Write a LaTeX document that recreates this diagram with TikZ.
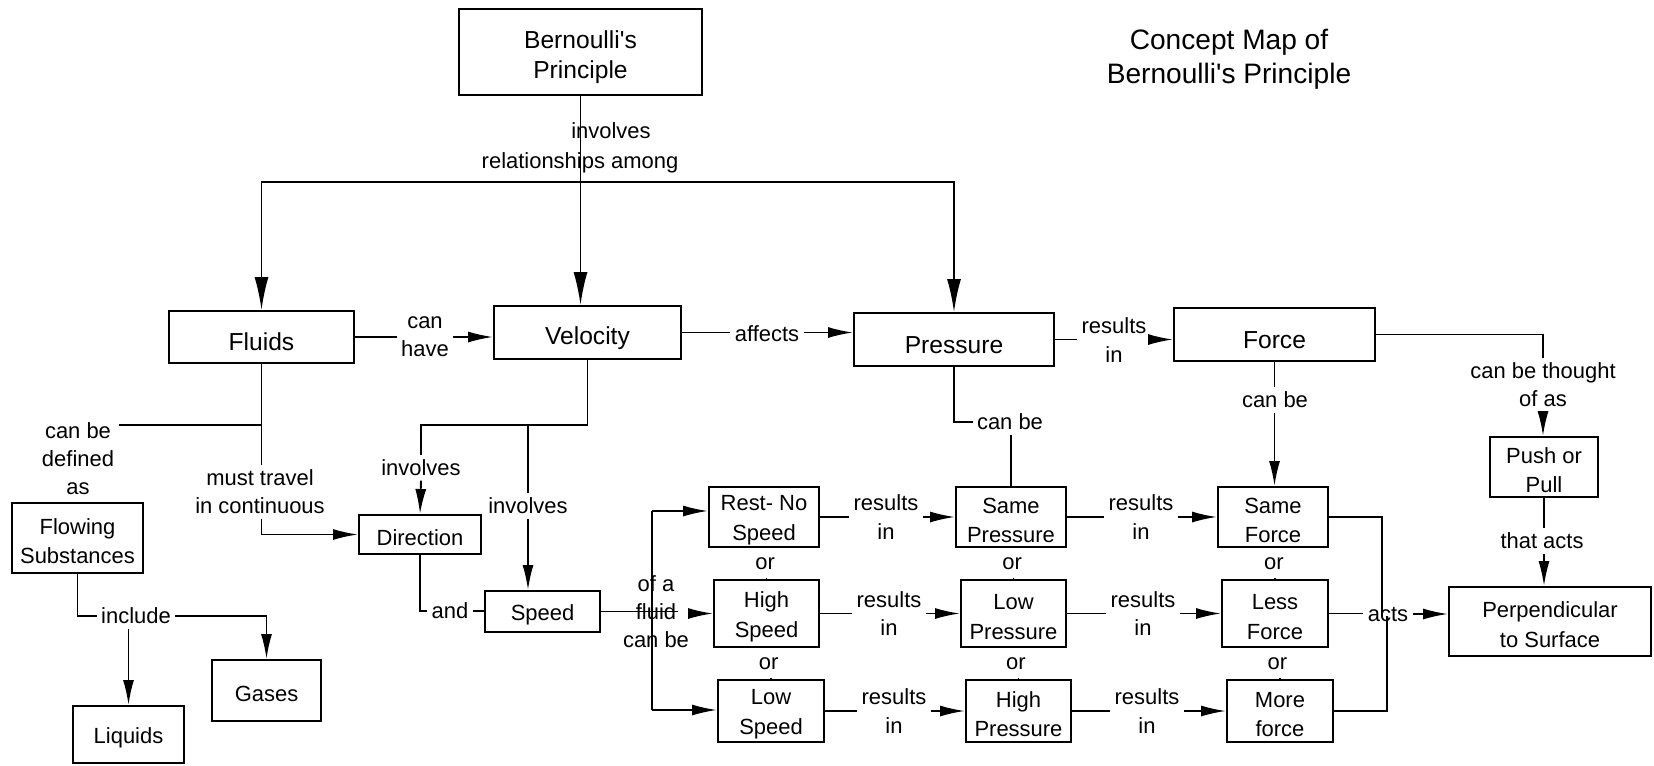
\documentclass[tikz,border=0pt]{standalone}
\usepackage{fontspec}
\setmainfont{Liberation Sans}
\usetikzlibrary{arrows.meta,calc}
\newcommand{\lift}[1]{\rule{0pt}{#1}}
\begin{document}
\begin{tikzpicture}[x=0.02cm,y=-0.02cm,line width=1.1pt,
    box/.style={draw,inner sep=0pt,align=center,font=\fontsize{12.5}{17}\selectfont},
    bigbox/.style={box,font=\fontsize{14}{17.6}\selectfont},
    lbl/.style={inner sep=2pt,align=center,font=\fontsize{12.5}{16}\selectfont},
    arr/.style={-{Latex[length=0.5cm,width=0.22cm]}},
    bigarr/.style={-{Latex[length=0.66cm,width=0.28cm]}}]
    \useasboundingbox (0,0) rectangle (1654,765);

    \node[bigbox,minimum width=4.86cm,minimum height=1.72cm] (bern) at (580.5,52) {\lift{16pt}Bernoulli\textquotesingle s\\Principle};
    \node[inner sep=0pt,align=center,font=\fontsize{16}{19.4}\selectfont] (title) at (1229,59) {Concept Map of\\Bernoulli\textquotesingle s Principle};

    \node[bigbox,minimum width=3.7cm,minimum height=1.04cm] (fluids) at (261.5,337) {\lift{16pt}Fluids};
    \node[bigbox,minimum width=3.74cm,minimum height=1.06cm] (velo) at (587.5,332.5) {\lift{16pt}Velocity};
    \node[bigbox,minimum width=4cm,minimum height=1.06cm] (press) at (954,339.5) {\lift{16pt}Pressure};
    \node[bigbox,minimum width=4.02cm,minimum height=1.06cm] (force) at (1274.5,334.5) {\lift{16pt}Force};
    \node[box,minimum width=2.16cm,minimum height=1.2cm] (push) at (1544,467) {\lift{12.7pt}Push or\\Pull};
    \node[box,minimum width=4.04cm,minimum height=1.38cm] (perp) at (1550,621.5) {\lift{12.7pt}Perpendicular\\to Surface};

    \node[box,minimum width=2.62cm,minimum height=1.4cm] (flow) at (77.5,538) {\lift{12.7pt}Flowing\\Substances};
    \node[box,minimum width=2.18cm,minimum height=1.22cm] (gases) at (266.5,690.5) {\lift{12.7pt}Gases};
    \node[box,minimum width=2.22cm,minimum height=1.14cm] (liquids) at (128.5,734.5) {\lift{12.7pt}Liquids};
    \node[box,minimum width=2.44cm,minimum height=0.78cm] (dir) at (420,534.5) {\lift{12.7pt}Direction};
    \node[box,minimum width=2.3cm,minimum height=0.82cm] (speed) at (542.5,611.5) {\lift{12.7pt}Speed};

    \node[box,minimum width=2.2cm,minimum height=1.2cm] (rest) at (764,517) {\lift{12.7pt}Rest- No\\Speed};
    \node[box,minimum width=2.1cm,minimum height=1.34cm] (hspeed) at (766.5,613.5) {\lift{12.7pt}High\\Speed};
    \node[box,minimum width=2.12cm,minimum height=1.24cm] (lspeed) at (771,711) {\lift{12.7pt}Low\\Speed};
    \node[box,minimum width=2.2cm,minimum height=1.2cm] (spress) at (1011,517) {\lift{12.7pt}Same\\Pressure};
    \node[box,minimum width=2.1cm,minimum height=1.34cm] (lpress) at (1013.5,613.5) {\lift{12.7pt}Low\\Pressure};
    \node[box,minimum width=2.1cm,minimum height=1.24cm] (hpress) at (1018.5,711) {\lift{12.7pt}High\\Pressure};
    \node[box,minimum width=2.2cm,minimum height=1.2cm] (sforce) at (1273,517) {\lift{12.7pt}Same\\Force};
    \node[box,minimum width=2.12cm,minimum height=1.34cm] (lforce) at (1275,613.5) {\lift{12.7pt}Less\\Force};
    \node[box,minimum width=2.12cm,minimum height=1.24cm] (mforce) at (1280,711) {\lift{12.7pt}More\\force};

    % top level
    \coordinate (jTop) at (580.5,182);
    \node[lbl,font=\fontsize{12.5}{17}\selectfont] (lRel) at (580,148) {\hspace*{1.24cm}involves\\relationships among};
    \draw[bigarr] (bern.south) -- (bern.south |- velo.north);
    \draw[bigarr] (jTop) -| (fluids.north);
    \draw[bigarr] (jTop) -| (press.north);

    \node[lbl] (lHave) at (425,337) {can\\have};
    \draw (fluids.east) -- (lHave.west |- fluids.east);
    \draw[arr] (lHave.east |- fluids.east) -- (velo.west |- fluids.east);

    \node[lbl] (lAff) at (767,334) {affects};
    \draw (velo.east) -- (lAff.west |- velo.east);
    \draw[arr] (lAff.east |- velo.east) -- (press.west |- velo.east);

    \node[lbl] (lRes) at (1114,340) {results\\in};
    \draw (press.east) -- (lRes.west |- press.east);
    \draw[arr] (lRes.east |- press.east) -- (force.west |- press.east);

    \node[lbl] (lCbP) at (1010,422) {can be};
    \draw (press.south) |- (lCbP.west);
    \draw (lCbP.south -| spress.north) -- (spress.north);

    \node[lbl] (lCbF) at (1275,400) {can be};
    \draw (force.south) -- (force.south |- lCbF.north);
    \draw[arr] (force.south |- lCbF.south) -- (force.south |- sforce.north);

    \node[lbl] (lThought) at (1543,385) {can be thought\\of as};
    \draw (force.east) -| (lThought.north);
    \draw[arr] (lThought.south) -- (lThought.south |- push.north);

    \node[lbl] (lThat) at (1542,541) {that acts};
    \draw (push.south) -- (push.south |- lThat.north);
    \draw[arr] (push.south |- lThat.south) -- (push.south |- perp.north);

    % fluids
    \coordinate (jFl) at (261.5,425);
    \node[lbl] (lDef) at (78,459) {can be\\defined\\as};
    \draw (jFl) -- (lDef.east |- jFl);
    \node[lbl] (lMust) at (260,492) {must travel\\in continuous};
    \draw (fluids.south) -- (fluids.south |- lMust.north);
    \draw[arr] (fluids.south |- lMust.south) |- (dir.west);

    \node[lbl] (lInc) at (136,616) {include};
    \draw (flow.south) |- (lInc.west);
    \draw[arr] (lInc.east) -| (gases.north);
    \draw[arr] (lInc.south -| liquids.north) -- (liquids.north);

    % velocity
    \coordinate (jVe) at (587.5,425);
    \node[lbl] (lInvD) at (421,468) {involves};
    \node[lbl] (lInvS) at (528,506) {involves};
    \draw (velo.south) -- (jVe) -| (lInvD.north);
    \draw (jVe -| lInvS.north) -- (lInvS.north);
    \draw[arr] (lInvD.south) -- (dir.north);
    \draw[arr] (lInvS.south) -- (lInvS.south |- speed.north);

    \node[lbl] (lAnd) at (450,611) {and};
    \draw (dir.south) |- (lAnd.west);
    \draw (lAnd.east) -- (speed.west |- lAnd.east);

    % speed of a fluid
    \node[lbl] (lOfA) at (656,612) {of a\\fluid\\can be};
    \coordinate (tTop) at (652,511);
    \coordinate (tBot) at (652,710);
    \draw (speed.east) -- ([xshift=-0.3cm]lOfA.east |- speed.east);
    \draw[arr] (lOfA.east |- hspeed.west) -- (hspeed.west);
    \draw (tTop) -- (tBot);
    \draw[arr] (tTop) -- (tTop -| rest.west);
    \draw[arr] (tBot) -- (tBot -| lspeed.west);

    \foreach \a/\b/\c in {rest/hspeed/o1,hspeed/lspeed/o2,spress/lpress/o3,lpress/hpress/o4,sforce/lforce/o5,lforce/mforce/o6}
    {
        \node[lbl,inner ysep=4pt] (\c) at ($(\a.south)!0.5!(\b.north)$) {or};
        \draw (\c.south -| \b.north) -- (\b.north);
    }

    \foreach \a/\b/\c/\x in {rest/spress/rA/886,hspeed/lpress/rB/889,lspeed/hpress/rC/894,spress/sforce/rD/1141,lpress/lforce/rE/1143,hpress/mforce/rF/1147}
    {
        \node[lbl] (\c) at (\x,0 |- \a.east) {results\\in};
        \draw (\a.east) -- (\c.west |- \a.east);
        \draw[arr] (\c.east |- \a.east) -- (\b.west |- \a.east);
    }

    % acts
    \coordinate (jActA) at (1382,616);
    \coordinate (jActB) at (1387,616);
    \node[lbl] (lActs) at (1388,614) {acts};
    \draw (lforce.east) -- (lActs.west |- lforce.east);
    \draw (sforce.east) -| (jActA);
    \draw (mforce.east) -| (jActB);
    \draw[arr] (lActs.east) -- (lActs.east -| perp.west);
\end{tikzpicture}
\end{document}
